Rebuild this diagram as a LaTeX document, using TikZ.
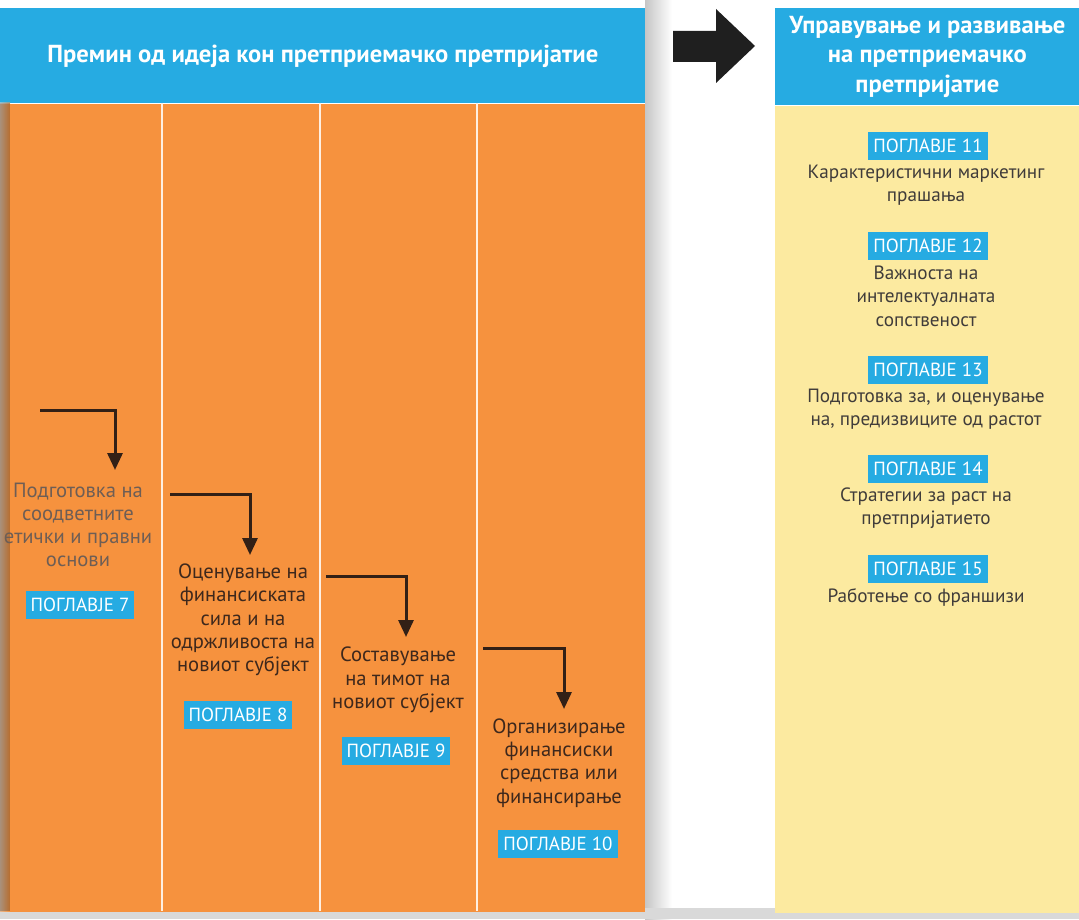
\documentclass[tikz,border=0pt]{standalone}
\usepackage{fontspec}
\setmainfont{PT Sans}
\usetikzlibrary{positioning, arrows.meta}
\definecolor{myblue}{RGB}{38,171,226}
\definecolor{myorange}{RGB}{246,146,62}
\definecolor{myyellow}{RGB}{252,234,160}
\definecolor{mytext}{RGB}{62,40,28}
\definecolor{mygray}{RGB}{64,60,58}

\begin{document}
\begin{tikzpicture}[
    x=0.5pt, y=-0.5pt,
    header/.style={rectangle, fill=myblue, text=white, align=center, inner sep=0pt, font=\bfseries\fontsize{12.3}{14.7}\selectfont},
    panel/.style={rectangle, inner sep=0pt},
    chtext/.style={align=center, inner sep=1pt, text=mytext, font=\fontsize{10.3}{11.6}\selectfont},
    rtext/.style={align=center, inner sep=1pt, text=mygray, font=\fontsize{9.6}{11.7}\selectfont},
    badge/.style={rectangle, fill=myblue, text=white, inner xsep=2.5pt, minimum height=11pt, font=\fontsize{9.5}{11}\selectfont},
    divider/.style={draw=white!85!myorange, line width=1pt},
    flow/.style={draw=mytext!80!black, line width=1.5pt, -{Triangle[length=8.5pt,width=7.5pt]}}
]
\useasboundingbox (0,0) rectangle (1079,919);

% Page shadows
\fill[left color=gray!45, right color=white] (645,0) rectangle (672,919);
\fill[gray!30] (0,908) rectangle (1079,919);

% Left panel
\node[header, anchor=north west, minimum width=322.5pt, minimum height=47.5pt] (lefthead) at (0,8)
    {Премин од идеја кон претприемачко претпријатие};
\node[panel, fill=myorange, anchor=north west, minimum width=322.5pt, minimum height=404pt] (leftbody) at (lefthead.south west) {};
\fill[left color=gray!30, right color=myorange, opacity=0.5] (0,103) rectangle (10,911);

% Column lines
\draw[divider] (162,103) -- (162,911);
\draw[divider] (320,103) -- (320,911);
\draw[divider] (477,103) -- (477,911);

% Right panel
\node[header, anchor=north west, minimum width=152pt, minimum height=48.5pt] (righthead) at (775,8)
    {Управување и развивање\\на претприемачко\\претпријатие};
\node[panel, fill=myyellow, anchor=north west, minimum width=152pt, minimum height=403.5pt] (rightbody) at (righthead.south west) {};

% Big arrow
\fill[black!88] (673,31) -- (716,31) -- (716,9) -- (755,46) -- (716,83) -- (716,62) -- (673,62) -- cycle;

% Chapter 7
\node[chtext, text=mytext!75] (txt7) at (78,525) {Подготовка на\\соодветните\\етички и правни\\основи};
\node[badge] (ch7) at (80,605) {ПОГЛАВЈЕ 7};
\coordinate (s7) at (40,410);
\coordinate (t7) at (115,470);

% Chapter 8
\node[chtext] (txt8) at (243,620) {Оценување на\\финансиската\\сила и на\\одржливоста на\\новиот субјект};
\node[badge] (ch8) at (238,715) {ПОГЛАВЈЕ 8};
\coordinate (s8) at (170,494);
\coordinate (t8) at (250,555);

% Chapter 9
\node[chtext] (txt9) at (398,680) {Составување\\на тимот на\\новиот субјект};
\node[badge] (ch9) at (396,751) {ПОГЛАВЈЕ 9};
\coordinate (s9) at (326,576);
\coordinate (t9) at (406,637);

% Chapter 10
\node[chtext] (txt10) at (559,763) {Организирање\\финансиски\\средства или\\финансирање};
\node[badge] (ch10) at (558,844) {ПОГЛАВЈЕ 10};
\coordinate (s10) at (483,648);
\coordinate (t10) at (564,709);

% Arrows
\draw[flow] (s7) -| (t7);
\draw[flow] (s8) -| (t8);
\draw[flow] (s9) -| (t9);
\draw[flow] (s10) -| (t10);

% Right chapters
\node[badge] (ch11) at (928,146) {ПОГЛАВЈЕ 11};
\node[rtext] (txt11) at (926,185) {Карактеристични маркетинг\\прашања};
\node[badge] (ch12) at (928,246) {ПОГЛАВЈЕ 12};
\node[rtext] (txt12) at (926,296) {Важноста на\\интелектуалната\\сопственост};
\node[badge] (ch13) at (928,370) {ПОГЛАВЈЕ 13};
\node[rtext] (txt13) at (926,409) {Подготовка за, и оценување\\на, предизвиците од растот};
\node[badge] (ch14) at (928,469) {ПОГЛАВЈЕ 14};
\node[rtext] (txt14) at (926,508) {Стратегии за раст на\\претпријатието};
\node[badge] (ch15) at (928,569) {ПОГЛАВЈЕ 15};
\node[rtext] (txt15) at (926,597) {Работење со франшизи};

\end{tikzpicture}
\end{document}
